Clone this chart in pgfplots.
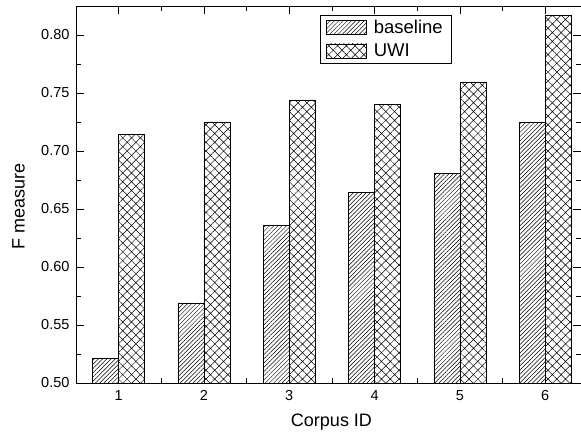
\documentclass[border=0pt]{standalone}
\usepackage{pgfplots}
\pgfplotsset{compat=1.18}
\usepackage{fontspec}
\setmainfont{Liberation Sans}
\usetikzlibrary{patterns.meta}
\begin{document}
\begin{tikzpicture}
\begin{axis}[name=ax,
  scale only axis, width=505pt, height=377pt,
  xmin=0.5, xmax=6.42, ymin=0.5, ymax=0.825,
  xtick={1,2,3,4,5,6}, minor x tick num=1,
  ytick={0.50,0.55,0.60,0.65,0.70,0.75,0.80}, minor y tick num=1,
  yticklabel style={xshift=-3pt, /pgf/number format/.cd,fixed,fixed zerofill,precision=2},
  /pgf/number format/assume math mode=true,
  tick align=inside, major tick length=8pt, minor tick length=5pt,
  tick style={black, line width=0.6pt},
  axis line style={line width=0.9pt},
  every tick label/.append style={font=\fontsize{14.5}{17}\selectfont},
  xticklabel style={yshift=-4pt},
  xlabel={Corpus ID}, ylabel={F measure},
  every axis x label/.style={at={(axis description cs:0.5,0)}, yshift=-39pt, xshift=3pt, anchor=center, font=\fontsize{18}{21}\selectfont},
  every axis y label/.style={at={(axis description cs:0,0.467)}, xshift=-57.5pt, rotate=90, anchor=center, font=\fontsize{18}{21}\selectfont},
  legend style={at={(0.483,0.976)}, anchor=north west, draw=black, line width=0.6pt,
    font=\fontsize{18.5}{22}\selectfont, row sep=4.5pt, inner xsep=6pt, inner ysep=3pt,
    nodes={inner ysep=2pt, inner xsep=3pt}},
  legend cell align=left,
  legend image code/.code={\draw[#1, line width=0.6pt] (0pt,-7pt) rectangle (40pt,7pt);},
]
\addplot[ybar, bar width=26pt, bar shift=-13pt, draw=black, line width=0.6pt,
  pattern={Lines[angle=45,distance=3pt,line width=0.5pt]}]
  coordinates {(1,0.521) (2,0.569) (3,0.636) (4,0.6645) (5,0.681) (6,0.7245)};
\addlegendentry{\hspace{4pt}baseline\hspace{8pt}}
\addplot[ybar, bar width=26pt, bar shift=13pt, draw=black, line width=0.6pt,
  pattern={Hatch[angle=45,distance=6.2pt,line width=0.5pt]}]
  coordinates {(1,0.714) (2,0.725) (3,0.744) (4,0.7405) (5,0.759) (6,0.8166)};
\addlegendentry{\hspace{4pt}UWI}
\end{axis}
\pgfresetboundingbox
\path ([shift={(-76pt,-53pt)}]ax.south west) rectangle ([shift={(0pt,6pt)}]ax.north east);
\end{tikzpicture}
\end{document}
